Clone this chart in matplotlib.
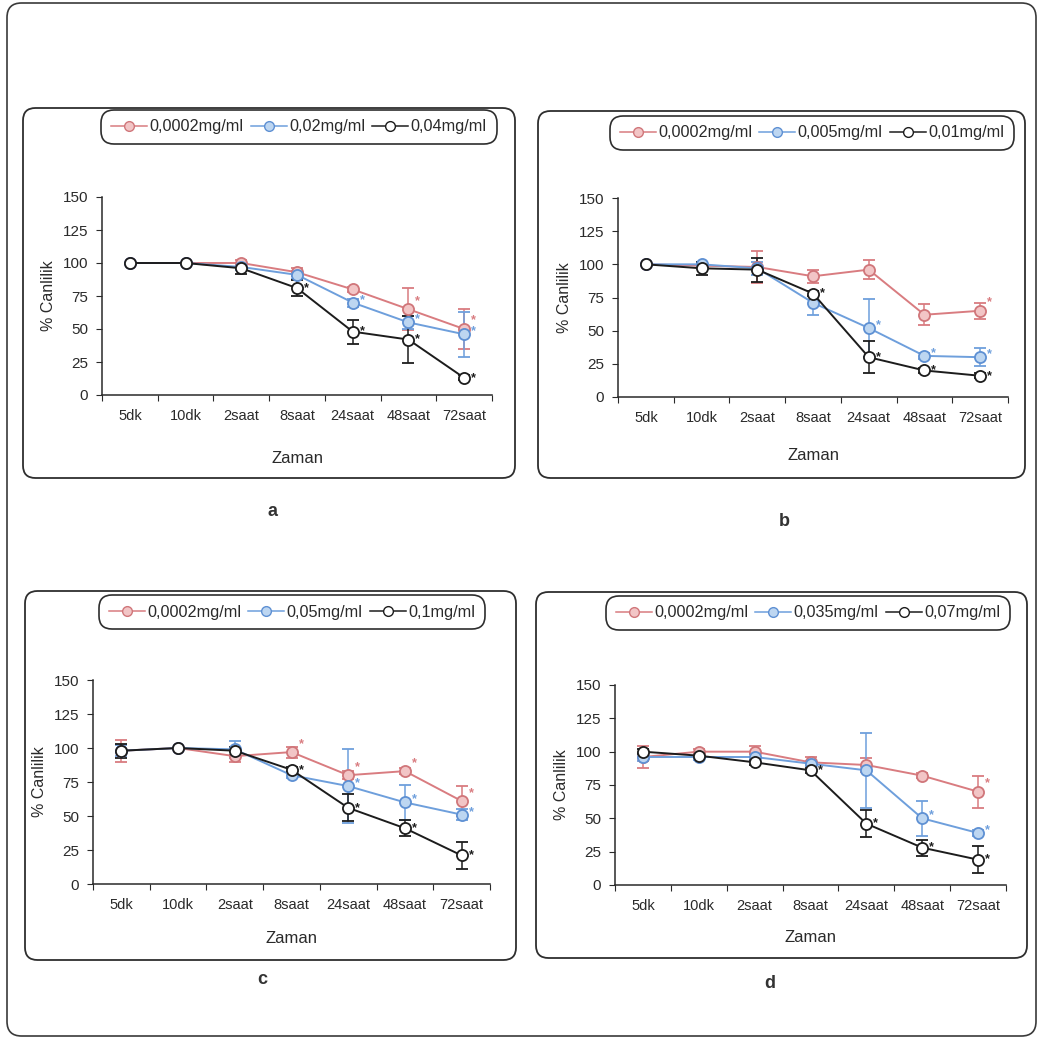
import numpy as np
import matplotlib
matplotlib.use('Agg')
import matplotlib.pyplot as plt
from matplotlib.lines import Line2D
from matplotlib.patches import FancyBboxPatch
from matplotlib import rcParams

rcParams['font.family'] = ['Liberation Sans', 'DejaVu Sans']
rcParams['axes.spines.top'] = False
rcParams['axes.spines.right'] = False

W, H = 1039, 1040

times = ['5dk', '10dk', '2saat', '8saat', '24saat', '48saat', '72saat']

# panel a
labels_a = ['0,0002mg/ml', '0,02mg/ml', '0,04mg/ml']
red_a = [100, 100, 100, 93, 80, 65, 50]
red_a_err = [0, 0, 2, 3, 2, 16, 15]
blue_a = [100, 100, 97, 91, 70, 55, 46]
blue_a_err = [0, 0, 2, 3, 3, 5, 17]
black_a = [100, 100, 96, 81, 48, 42, 13]
black_a_err = [0, 0, 4, 6, 9, 18, 2]
red_a_sig = [0, 0, 0, 0, 0, 1, 1]
blue_a_sig = [0, 0, 0, 0, 1, 1, 1]
black_a_sig = [0, 0, 0, 1, 1, 1, 1]

# panel b
labels_b = ['0,0002mg/ml', '0,005mg/ml', '0,01mg/ml']
red_b = [100, 99, 98, 91, 96, 62, 65]
red_b_err = [0, 2, 12, 5, 7, 8, 6]
blue_b = [100, 100, 97, 71, 52, 31, 30]
blue_b_err = [0, 2, 5, 9, 22, 2, 7]
black_b = [100, 97, 96, 78, 30, 20, 16]
black_b_err = [0, 5, 9, 2, 12, 2, 2]
red_b_sig = [0, 0, 0, 0, 0, 0, 1]
blue_b_sig = [0, 0, 0, 0, 1, 1, 1]
black_b_sig = [0, 0, 0, 1, 1, 1, 1]

# panel c
labels_c = ['0,0002mg/ml', '0,05mg/ml', '0,1mg/ml']
red_c = [98, 100, 94, 97, 80, 83, 61]
red_c_err = [8, 0, 4, 4, 3, 2, 11]
blue_c = [98, 100, 99, 80, 72, 60, 51]
blue_c_err = [4, 0, 6, 2, 27, 13, 4]
black_c = [98, 100, 98, 84, 56, 41, 21]
black_c_err = [5, 0, 3, 2, 10, 6, 10]
red_c_sig = [0, 0, 0, 1, 1, 1, 1]
blue_c_sig = [0, 0, 0, 0, 1, 1, 1]
black_c_sig = [0, 0, 0, 1, 1, 1, 1]

# panel d
labels_d = ['0,0002mg/ml', '0,035mg/ml', '0,07mg/ml']
red_d = [96, 100, 100, 92, 90, 82, 70]
red_d_err = [8, 2, 4, 4, 5, 2, 12]
blue_d = [96, 96, 96, 91, 86, 50, 39]
blue_d_err = [3, 2, 2, 2, 28, 13, 2]
black_d = [100, 97, 92, 86, 46, 28, 19]
black_d_err = [2, 2, 2, 2, 10, 6, 10]
red_d_sig = [0, 0, 0, 0, 0, 0, 1]
blue_d_sig = [0, 0, 0, 0, 0, 1, 1]
black_d_sig = [0, 0, 0, 1, 1, 1, 1]

# line / marker colours and where each series puts its significance star
STYLES = [
    dict(line='#d97c80', face='#f2c5c6', edge='#d0767a', star=(5, 6)),
    dict(line='#6e9fdc', face='#bdd6f1', edge='#5e90d3', star=(5, 2)),
    dict(line='#1c1c1c', face='#ffffff', edge='#1c1c1c', star=(5, 0)),
]

# pixel layout: panel box, axes box, legend centre, xlabel pad, letter position
PANELS = [
    dict(box=(23, 108, 515, 478), ax=(102, 197, 492, 395), leg=(299, 127), lpad=20, letter='a', lpos=(272, 512),
         series=[(red_a, red_a_err, red_a_sig), (blue_a, blue_a_err, blue_a_sig), (black_a, black_a_err, black_a_sig)],
         labels=labels_a),
    dict(box=(538, 111, 1025, 478), ax=(618, 198, 1008, 397), leg=(812, 133), lpad=17, letter='b', lpos=(784, 522),
         series=[(red_b, red_b_err, red_b_sig), (blue_b, blue_b_err, blue_b_sig), (black_b, black_b_err, black_b_sig)],
         labels=labels_b),
    dict(box=(25, 591, 516, 960), ax=(93, 680, 490, 884), leg=(292, 612), lpad=14, letter='c', lpos=(262, 980),
         series=[(red_c, red_c_err, red_c_sig), (blue_c, blue_c_err, blue_c_sig), (black_c, black_c_err, black_c_sig)],
         labels=labels_c),
    dict(box=(536, 592, 1027, 958), ax=(615, 685, 1006, 885), leg=(808, 613), lpad=12, letter='d', lpos=(770, 984),
         series=[(red_d, red_d_err, red_d_sig), (blue_d, blue_d_err, blue_d_sig), (black_d, black_d_err, black_d_sig)],
         labels=labels_d),
]


def fx(px):
    return px / W


def fy(py):
    return 1 - py / H


fig = plt.figure(figsize=(W / 100, H / 100), dpi=100)
fig.patch.set_facecolor('white')

# outer frame round the whole figure
fig.patches.append(FancyBboxPatch((fx(7), fy(1036)), fx(1029), 1033 / H,
                                  boxstyle='round,pad=0,rounding_size=0.014',
                                  transform=fig.transFigure, fill=False,
                                  edgecolor='#3a3a3a', linewidth=1.2))

x = np.arange(len(times)) + 0.5

for p in PANELS:
    x0, y0, x1, y1 = p['box']
    fig.patches.append(FancyBboxPatch((fx(x0), fy(y1)), fx(x1 - x0), (y1 - y0) / H,
                                      boxstyle='round,pad=0,rounding_size=0.012',
                                      transform=fig.transFigure, fill=False,
                                      edgecolor='#2e2e2e', linewidth=1.3, zorder=0))

    ax0, ay0, ax1, ay1 = p['ax']
    ax = fig.add_axes([fx(ax0), fy(ay1), fx(ax1 - ax0), (ay1 - ay0) / H])
    ax.patch.set_alpha(0)

    handles = []
    for (vals, errs, sig), st in zip(p['series'], STYLES):
        ax.errorbar(x, vals, yerr=errs, color=st['line'], ecolor=st['line'], elinewidth=1.1,
                    capsize=4, capthick=1.1, linewidth=1.4, marker='o', markersize=8,
                    markerfacecolor=st['face'], markeredgecolor=st['edge'], markeredgewidth=1.3,
                    clip_on=False)
        for xi, v, s in zip(x, vals, sig):
            if s:
                ax.annotate('*', (xi, v), xytext=st['star'], textcoords='offset points',
                            fontsize=9, fontweight='bold', color=st['line'], ha='left', va='center')
        handles.append(Line2D([], [], color=st['line'], linewidth=1.1, marker='o', markersize=7,
                              markerfacecolor=st['face'], markeredgecolor=st['edge']))

    ax.set_xlim(0, len(times))
    ax.set_ylim(0, 150)
    ax.set_yticks([0, 25, 50, 75, 100, 125, 150])
    ax.set_xticks(np.arange(len(times) + 1))
    ax.set_xticklabels([])
    ax.set_xticks(x, minor=True)
    ax.set_xticklabels(times, minor=True)
    ax.tick_params(axis='x', which='minor', length=0, pad=10, labelsize=10.5, colors='#2a2a2a')
    ax.tick_params(axis='x', which='major', length=4, direction='out', color='#2a2a2a')
    ax.tick_params(axis='y', length=4, direction='out', labelsize=11, colors='#2a2a2a', pad=6)
    for sp in ('left', 'bottom'):
        ax.spines[sp].set_color('#2a2a2a')
        ax.spines[sp].set_linewidth(1.1)

    ax.set_ylabel('% Canlilik', fontsize=11.5, color='#2a2a2a', labelpad=5)
    ax.set_xlabel('Zaman', fontsize=12, color='#2a2a2a', labelpad=p['lpad'])

    leg = fig.legend(handles, p['labels'], loc='center', bbox_to_anchor=(fx(p['leg'][0]), fy(p['leg'][1])),
                     ncol=3, fontsize=11.7, frameon=True, fancybox=True, handlelength=2.2,
                     handletextpad=0.15, columnspacing=0.45, borderpad=0.3, borderaxespad=0)
    frame = leg.get_frame()
    frame.set_boxstyle('round,pad=0.3,rounding_size=0.8')
    frame.set_edgecolor('#2e2e2e')
    frame.set_linewidth(1.2)
    frame.set_alpha(1)
    for t in leg.get_texts():
        t.set_color('#2a2a2a')

    fig.text(fx(p['lpos'][0]), fy(p['lpos'][1]), p['letter'], fontsize=13, fontweight='bold',
             color='#333333', ha='center', va='center')

fig.savefig('out.png', dpi=100, facecolor='white')
